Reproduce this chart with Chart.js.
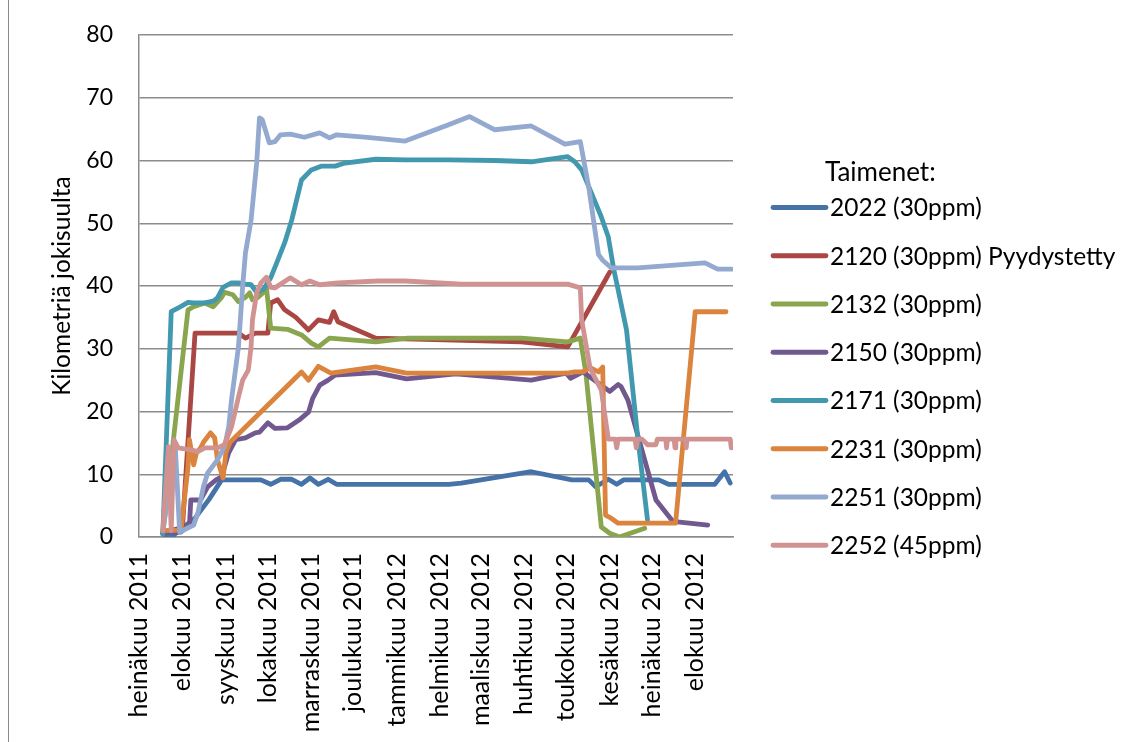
<!DOCTYPE html>
<html><head><meta charset="utf-8">
<script src="https://cdn.jsdelivr.net/npm/chart.js@4/dist/chart.umd.min.js"></script>
<style>
html,body{margin:0;padding:0;background:#fff;}
#wrap{position:relative;width:1129px;height:742px;overflow:hidden;background:#fff;}
#frame{position:absolute;left:8px;top:-5px;width:1300px;height:800px;border-left:1.5px solid #8a8a8a;}
canvas{position:absolute;left:0;top:0;}
</style></head><body>
<div id="wrap"><div id="frame"></div><canvas id="c" width="1129" height="742"></canvas></div>
<script>
// x values: days since 1 July 2011
const monthDays = [0,31,62,92,123,153,184,215,244,275,305,336,366,397];
const monthLabels = ['heinäkuu 2011','elokuu 2011','syyskuu 2011','lokakuu 2011','marraskuu 2011','joulukuu 2011',
  'tammikuu 2012','helmikuu 2012','maaliskuu 2012','huhtikuu 2012','toukokuu 2012','kesäkuu 2012','heinäkuu 2012','elokuu 2012'];
const yTitle = 'Kilometriä jokisuulta';
const legendTitle = 'Taimenet:';
const seriesNames = ['2022 (30ppm)','2120 (30ppm) Pyydystetty','2132 (30ppm)','2150 (30ppm)','2171 (30ppm)','2231 (30ppm)','2251 (30ppm)','2252 (45ppm)'];
const seriesColors = ['#4572A7','#AA4643','#89A54E','#71588F','#4198AF','#DB843D','#93A9CF','#D19392'];

const days2022 = [17,23,40,50,59,87,94,101,109,116,122,128,135,141,221,230,280,309,321,326,335,341,346,356,371,378,411,418,422];
const km2022   = [0.5,0,3,6,9.1,9.1,8.4,9.2,9.2,8.4,9.4,8.4,9.2,8.4,8.4,8.6,10.4,9.1,9.1,8,9.2,8.4,9.1,9.1,9.1,8.4,8.4,10.4,8.6];

const days2120 = [17,31,40,71,76,83,92,94,99,104,112,121,128,136,139,142,169,273,306,333,336];
const km2120   = [0.7,1.5,32.5,32.5,31.7,32.5,32.5,37.3,37.8,36.2,35,33,34.6,34.2,35.9,34.3,31.7,31.1,30.3,41,42.2];

const days2132 = [17,35,39,47,53,59,61,67,71,76,79,81,85,89,91,94,106,116,123,128,136,169,192,273,306,315,319,330,336,343,361];
const km2132   = [0.5,36.2,36.7,37.3,36.7,38.2,39,38.6,37.5,38.2,38.9,37.8,38.2,39,39.7,33.3,33.1,32.2,30.9,30.3,31.7,31.1,31.7,31.7,31.1,31.7,26.1,1.6,0.6,0,1.4];

const days2150 = [17,30,36,37,44,49,55,59,64,69,76,83,86,92,97,106,114,121,124,129,135,140,169,191,226,280,305,308,317,336,342,344,349,369,381,406];
const km2150   = [0.8,0.8,1.9,5.9,5.9,8,9.1,9.6,13.4,15.5,15.8,16.6,16.7,18.2,17.3,17.4,18.6,19.9,22.1,24.2,25,25.8,26.2,25.2,26,25,26.1,25.3,26.3,23.2,24.3,24,21.8,5.9,2.5,1.9];

const days2171 = [17,23,28,35,39,47,53,56,60,66,71,76,80,84,89,94,99,104,109,116,123,130,140,147,169,190,221,254,280,306,311,316,323,330,335,339,342,348,356,363];
const km2171   = [0.5,35.9,36.5,37.4,37.3,37.3,37.6,38.1,39.8,40.5,40.5,40.3,40.2,39,39.5,41.3,44.1,46.9,50.5,56.9,58.5,59.1,59.1,59.6,60.2,60.1,60.1,60,59.8,60.6,59.8,58.5,54.8,51,47.8,42.5,39.4,33,15.9,2.7];

const days2231 = [17,30,35,36,39,41,44,46,51,54,56,60,62,65,116,121,128,137,169,191,306,311,317,322,328,331,333,337,342,383,397,419];
const km2231   = [1,1.1,11.2,15.5,11.5,13.4,14.2,15.1,16.6,15.8,12.3,9.4,13.4,15.1,26.3,25,27.2,26.1,27.1,26.1,26.1,26.3,26.3,27,26.3,27.1,3.5,3,2.2,2.2,35.9,35.9];

const days2251 = [17,26,29,39,42,46,49,56,61,64,66,71,74,76,80,84,86,88,93,97,101,108,118,129,136,141,163,190,221,236,254,280,304,315,321,328,331,337,356,404,413,423];
const km2251   = [1,14,0.8,1.9,3.8,8,10.2,12.3,14.4,17.5,21.8,30.3,40,45.3,50.5,59.6,66.8,66.5,62.8,63,64.1,64.2,63.7,64.4,63.6,64.1,63.7,63.1,65.7,67,64.9,65.5,62.6,63,55.8,45,44.1,42.9,42.9,43.7,42.7,42.7];

const days2252 = [17,21,23,25,28,37,42,47,56,61,66,71,74,78,80,81,84,87,91,94,97,108,116,122,129,142,171,190,230,306,315,316,322,330,335,340,341,342,354,355,356,359,363,369,370,376,376.6,377.2,382,382.6,383.2,390,390.6,391.2,422,422.8];
const km2252   = [1,14.4,1,15.5,14.2,13.9,13.6,14.2,14.2,14.7,17.5,22.3,25,26.6,30.3,34.6,38.9,40.5,41.4,39.8,39.7,41.3,40.2,40.8,40.2,40.5,40.8,40.8,40.3,40.3,39.7,34.6,26.9,23.4,15.6,15.6,14.2,15.6,15.6,14.2,15.6,15.6,14.7,14.7,15.6,15.6,14.2,15.6,15.6,14.2,15.6,15.6,14.2,15.6,15.6,14.2];

const seriesDays = [days2022,days2120,days2132,days2150,days2171,days2231,days2251,days2252];
const seriesKm   = [km2022,km2120,km2132,km2150,km2171,km2231,km2251,km2252];

const FONT = 'Lato';
Chart.defaults.font.family = FONT;
Chart.defaults.color = '#000';

const datasets = seriesNames.map((name,i)=>({
  label: name,
  data: seriesDays[i].map((d,j)=>({x:d, y:seriesKm[i][j]})),
  borderColor: seriesColors[i],
  backgroundColor: seriesColors[i],
  borderWidth: 4.8,
  pointRadius: 0,
  tension: 0,
  borderJoinStyle: 'round',
  borderCapStyle: 'round',
  fill: false,
  order: seriesNames.length - i
}));

const legendPlugin = {
  id: 'customLegend',
  afterDraw(chart){
    const ctx = chart.ctx;
    ctx.save();
    ctx.fillStyle = '#000';
    ctx.textBaseline = 'middle';
    ctx.textAlign = 'left';
    ctx.font = '26px ' + FONT;
    ctx.fillText(legendTitle, 825, 173);
    ctx.font = '24.5px ' + FONT;
    seriesNames.forEach((name,i)=>{
      const y = 207.5 + i*48.25;
      ctx.strokeStyle = seriesColors[i];
      ctx.lineWidth = 4.8;
      ctx.lineCap = 'round';
      ctx.beginPath(); ctx.moveTo(773,y); ctx.lineTo(826,y); ctx.stroke();
      ctx.fillText(name, 830, y+1);
    });
    ctx.restore();
  }
};

new Chart(document.getElementById('c'), {
  type: 'line',
  data: { datasets },
  plugins: [legendPlugin],
  options: {
    responsive: false,
    animation: false,
    devicePixelRatio: 1,
    layout: { padding: { left: 0, right: 396, top: 35, bottom: 0 } },
    plugins: { legend: { display: false }, tooltip: { enabled: false } },
    scales: {
      x: {
        type: 'linear',
        min: 0, max: 424,
        afterBuildTicks(scale){ scale.ticks = monthDays.map(v=>({value:v})); },
        afterFit(scale){ scale.height = 205; },
        ticks: {
          autoSkip: false, minRotation: 90, maxRotation: 90, padding: 16,
          font: { size: 25 },
          callback(v){ const k = monthDays.indexOf(v); return k>=0 ? monthLabels[k] : ''; }
        },
        grid: { display: false, drawTicks: false },
        border: { display: true, color: '#8c8c8c', width: 1.5 }
      },
      y: {
        min: 0, max: 80,
        afterFit(scale){ scale.width = 139; },
        ticks: { stepSize: 10, padding: 0, font: { size: 23 } },
        grid: { color: '#8c8c8c', lineWidth: 1.5, drawTicks: true, tickLength: 26, tickColor: 'rgba(0,0,0,0)' },
        border: { display: true, color: '#8c8c8c', width: 1.5 },
        title: { display: true, text: yTitle, font: { size: 24.5 }, padding: { top: 47, bottom: 0 } }
      }
    }
  }
});
</script>
</body></html>
